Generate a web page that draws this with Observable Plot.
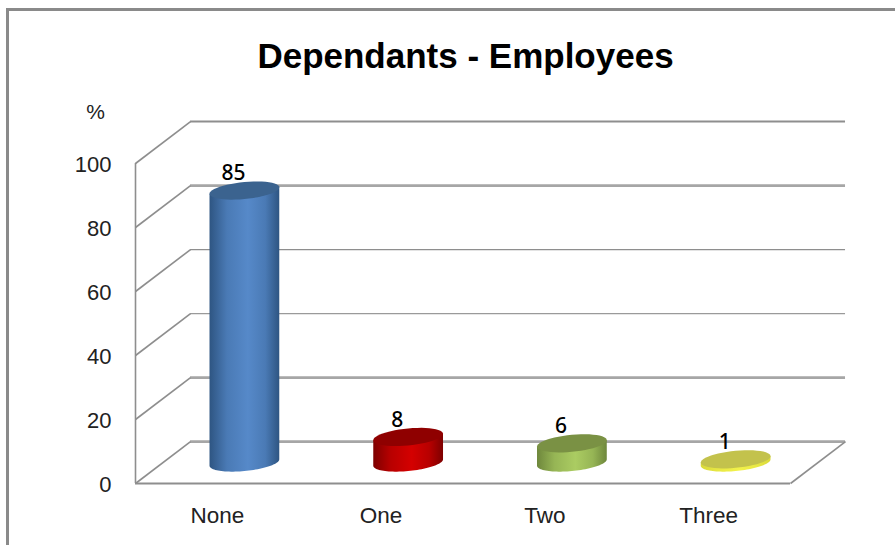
<!DOCTYPE html>
<html>
<head>
<meta charset="utf-8">
<script src="https://cdn.jsdelivr.net/npm/d3@7"></script>
<script src="https://cdn.jsdelivr.net/npm/@observablehq/plot@0.6"></script>
<style>
html,body{margin:0;padding:0;background:#fff;overflow:hidden}
#chart{position:relative;width:895px;height:545px}
#chart::before{content:"";position:absolute;left:6px;top:8px;right:-5px;bottom:-5px;border:3px solid #8a8a8a;box-sizing:border-box}
#chart svg{position:absolute;left:0;top:0;background:transparent}
</style>
</head>
<body>
<div id="chart"></div>
<script>
const categories = ["None", "One", "Two", "Three"];
const values = [85, 8, 6, 1];
const yTicks = [0, 20, 40, 60, 80, 100];
const gridWidths = [2.6, 2.6, 1.2, 1.4, 2.8, 2];
const gridColors = ["#a6a6a6", "#a6a6a6", "#9a9a9a", "#8e8e8e", "#a6a6a6", "#8e8e8e"];
const bodyOffsets = [0, 0.25, 0.55, 0.8, 1];
const bodyStops = [
  ["#2e5582", "#4a7ab5", "#5689c9", "#4a7ab5", "#2e5582"],
  ["#7d0000", "#b80000", "#d40000", "#b80000", "#7d0000"],
  ["#6e873c", "#96b555", "#abcc62", "#96b555", "#6e873c"],
  ["#d9d93a", "#e8e844", "#f2f24a", "#e8e844", "#d9d93a"]
];
const capColors = ["#3b638f", "#8f0000", "#7a9144", "#c3c24c"];

// Oblique depth of the 3D box, in scale units
const depthX = 0.336, depthY = 13.1;
// Cylinder section, in scale units
const capA = 0.213, capB = 2.66, capS = 1.0;
const steps = d3.range(0, 49).map(i => i / 48);

const capOutline = (c, v) => steps.map(s => {
  const t = s * 2 * Math.PI;
  return {x: c + capA * Math.cos(t), y: v + capB * Math.sin(t) + capS * Math.cos(t)};
});
const bodyOutline = (c, base, top) => [
  {x: c + capA, y: top + capS},
  ...steps.map(s => {
    const t = -s * Math.PI;
    return {x: c + capA * Math.cos(t), y: base + capB * Math.sin(t) + capS * Math.cos(t)};
  }),
  {x: c - capA, y: top - capS}
];

const baseY = depthY / 2;
const centre = i => i + 0.5 + depthX / 2 - 0.003;

const font = "'Liberation Sans', Arial, sans-serif";
const marks = [
  () => {
    const ns = "http://www.w3.org/2000/svg";
    const defs = document.createElementNS(ns, "defs");
    bodyStops.forEach((stops, i) => {
      const g = document.createElementNS(ns, "linearGradient");
      g.setAttribute("id", "body" + i);
      stops.forEach((color, k) => {
        const st = document.createElementNS(ns, "stop");
        st.setAttribute("offset", bodyOffsets[k]);
        st.setAttribute("stop-color", color);
        g.appendChild(st);
      });
      defs.appendChild(g);
    });
    return defs;
  },
  // back wall gridlines
  ...yTicks.map((v, i) => Plot.ruleY([v + depthY], {x1: depthX, x2: 4 + depthX, stroke: gridColors[i], strokeWidth: gridWidths[i]})),
  // side wall diagonals
  Plot.link(yTicks, {x1: 0, y1: d => d, x2: depthX, y2: d => d + depthY, stroke: "#8e8e8e", strokeWidth: 1.6}),
  // front axis and floor
  Plot.ruleX([0], {y1: 0, y2: 100, stroke: "#8e8e8e", strokeWidth: 1.6}),
  Plot.ruleY([0], {x1: 0, x2: 4, stroke: "#8e8e8e", strokeWidth: 2}),
  Plot.link([0], {x1: 4, y1: 0, x2: 4 + depthX, y2: depthY, stroke: "#8e8e8e", strokeWidth: 1.6}),
  // cylinders
  ...values.flatMap((v, i) => [
    Plot.line(bodyOutline(centre(i), baseY, baseY + v), {x: "x", y: "y", fill: `url(#body${i})`, stroke: "none"}),
    Plot.line(capOutline(centre(i), baseY + v), {x: "x", y: "y", fill: capColors[i], stroke: "none"})
  ]),
  // value labels
  Plot.text(values, {
    x: (d, i) => centre(i), y: d => d + baseY, text: d => String(d),
    dx: -11, dy: -17, fontSize: 21, fontWeight: 500, fontFamily: "'Noto Sans', sans-serif", fill: "#000"
  }),
  // axis labels
  Plot.text(yTicks, {x: 0, y: d => d, text: d => String(d), textAnchor: "end", dx: -24, dy: 1, fontSize: 22, fontFamily: font, fill: "#222"}),
  Plot.text(categories, {x: (d, i) => i + 0.5, y: 0, text: d => d, dy: 32, fontSize: 22.5, fontFamily: font, fill: "#222"}),
  Plot.text(["%"], {frameAnchor: "top-left", text: d => d, dx: 95, dy: 112, fontSize: 21, fontFamily: font, fill: "#222", textAnchor: "middle", lineAnchor: "middle"}),
  Plot.text(["Dependants - Employees"], {frameAnchor: "top-left", text: d => d, dx: 465, dy: 56, fontSize: 35, fontWeight: 700, fontFamily: font, fill: "#000", textAnchor: "middle", lineAnchor: "middle"})
];

const plot = Plot.plot({
  width: 895,
  height: 545,
  margin: 0,
  style: {background: "transparent", overflow: "visible"},
  x: {type: "linear", domain: [0, 4], range: [135, 790], axis: null},
  y: {type: "linear", domain: [0, 100], range: [483, 163], axis: null},
  marks
});
document.getElementById("chart").appendChild(plot);
</script>
</body>
</html>
